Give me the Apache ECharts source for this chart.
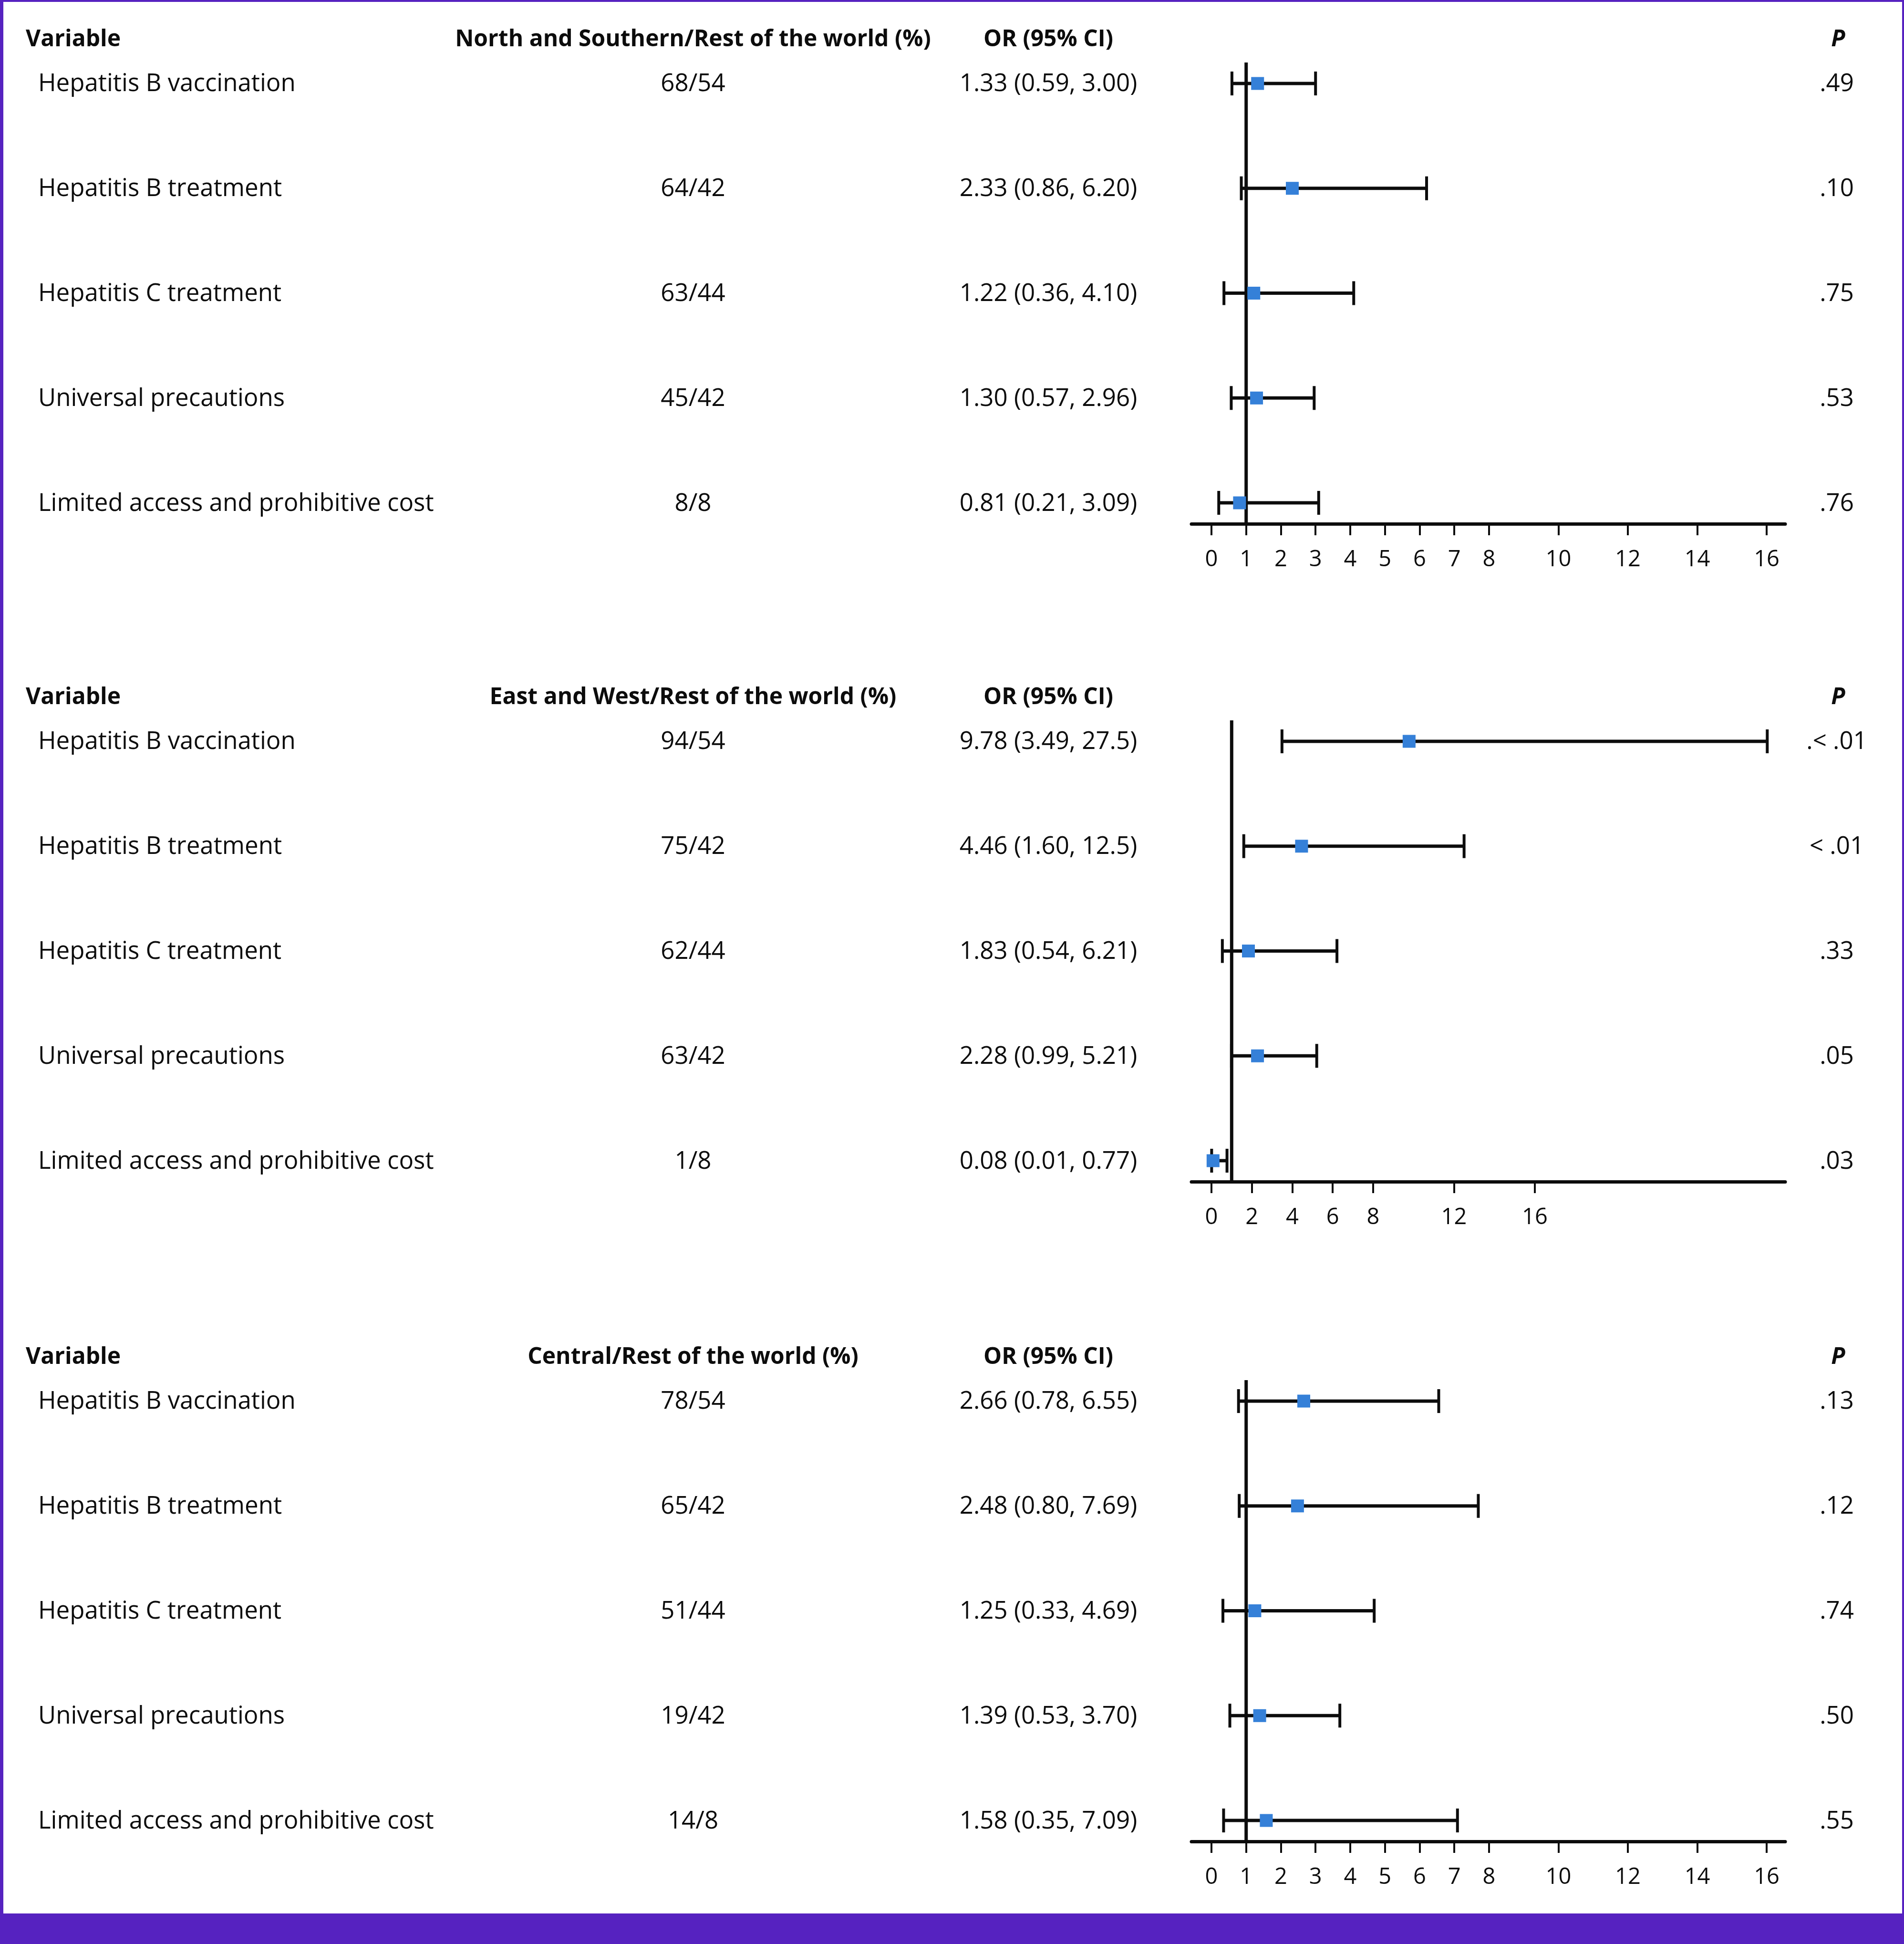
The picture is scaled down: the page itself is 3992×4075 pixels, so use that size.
<!DOCTYPE html>
<html>
<head>
<meta charset="utf-8"/>
<title>OR forest plot by region</title>
<script src="https://cdn.jsdelivr.net/npm/echarts@6.0.0/dist/echarts.min.js"></script>
<style>
html, body { margin: 0; padding: 0; background: #5622c0; }
#chart { width: 3992px; height: 4075px; }
</style>
</head>
<body>
<div id="chart"></div>
<script>
// rows of every panel
var variables = ['Hepatitis B vaccination', 'Hepatitis B treatment', 'Hepatitis C treatment',
                 'Universal precautions', 'Limited access and prohibitive cost'];
var groupNames = ['North and Southern/Rest of the world (%)', 'East and West/Rest of the world (%)',
                  'Central/Rest of the world (%)'];

// North and Southern
var pctNS = ['68/54', '64/42', '63/44', '45/42', '8/8'];
var orNS = [1.33, 2.33, 1.22, 1.30, 0.81];
var loNS = [0.59, 0.86, 0.36, 0.57, 0.21];
var hiNS = [3.00, 6.20, 4.10, 2.96, 3.09];
var pNS = ['.49', '.10', '.75', '.53', '.76'];

// East and West
var pctEW = ['94/54', '75/42', '62/44', '63/42', '1/8'];
var orEW = [9.78, 4.46, 1.83, 2.28, 0.08];
var loEW = [3.49, 1.60, 0.54, 0.99, 0.01];
var hiEW = [27.5, 12.5, 6.21, 5.21, 0.77];
var pEW = ['.< .01', '< .01', '.33', '.05', '.03'];

// Central
var pctC = ['78/54', '65/42', '51/44', '19/42', '14/8'];
var orC = [2.66, 2.48, 1.25, 1.39, 1.58];
var loC = [0.78, 0.80, 0.33, 0.53, 0.35];
var hiC = [6.55, 7.69, 4.69, 3.70, 7.09];
var pC = ['.13', '.12', '.74', '.50', '.55'];

// axis ticks
var ticksFine = [0, 1, 2, 3, 4, 5, 6, 7, 8, 10, 12, 14, 16];
var ticksEW = [0, 2, 4, 6, 8, 12, 16];
var nullOR = 1;

var panels = [
    {name: groupNames[0], pct: pctNS, or: orNS, lo: loNS, hi: hiNS, p: pNS, ticks: ticksFine, min: -0.577, max: 16.536, top: 131},
    {name: groupNames[1], pct: pctEW, or: orEW, lo: loEW, hi: hiEW, p: pEW, ticks: ticksEW, min: -0.99, max: 28.39, top: 1510},
    {name: groupNames[2], pct: pctC, or: orC, lo: loC, hi: hiC, p: pC, ticks: ticksFine, min: -0.577, max: 16.536, top: 2893}
];

var INK = '#0c0c0c';
var BLUE = '#3580d8';
var FONT = "'Open Sans', 'Noto Sans', sans-serif";

function fmt(v) {
    return v >= 10 ? v.toFixed(1) : v.toFixed(2);
}

function renderCI(params, api) {
    var row = api.value(0);
    var m = api.coord([api.value(1), row]);
    var a = api.coord([api.value(2), row]);
    var b = api.coord([api.value(3), row]);
    var cap = 25, sq = 27;
    return {
        type: 'group',
        children: [
            {type: 'line', shape: {x1: a[0], y1: a[1], x2: b[0], y2: b[1]}, style: {stroke: INK, lineWidth: 7}},
            {type: 'line', shape: {x1: a[0], y1: a[1] - cap, x2: a[0], y2: a[1] + cap}, style: {stroke: INK, lineWidth: 6}},
            {type: 'line', shape: {x1: b[0], y1: b[1] - cap, x2: b[0], y2: b[1] + cap}, style: {stroke: INK, lineWidth: 6}},
            {type: 'rect', shape: {x: m[0] - sq / 2, y: m[1] - sq / 2, width: sq, height: sq}, style: {fill: BLUE}}
        ]
    };
}

var myChart = echarts.init(document.getElementById('chart'), null, {renderer: 'canvas'});

var grids = [], xAxes = [], yAxes = [], series = [];
panels.forEach(function (pn, k) {
    grids.push({left: 2498, width: 1245, top: pn.top, height: 967});
    xAxes.push({
        type: 'value', gridIndex: k, min: pn.min, max: pn.max,
        axisLine: {show: true, onZero: false, lineStyle: {color: INK, width: 7}},
        axisTick: {show: true, customValues: pn.ticks, length: 24, lineStyle: {color: INK, width: 4}},
        axisLabel: {show: true, customValues: pn.ticks, margin: 52, color: INK, fontSize: 47, fontFamily: FONT},
        splitLine: {show: false}
    });
    yAxes.push({type: 'value', gridIndex: k, inverse: true, min: -0.2, max: 4.2, show: false});
    series.push({
        type: 'line', xAxisIndex: k, yAxisIndex: k, silent: true, symbol: 'none', z: 1,
        lineStyle: {color: INK, width: 7},
        data: [[nullOR, -0.2], [nullOR, 4.2]]
    });
    series.push({
        type: 'custom', xAxisIndex: k, yAxisIndex: k, z: 3,
        renderItem: renderCI,
        encode: {x: [1, 2, 3], y: 0},
        data: pn.or.map(function (v, i) { return [i, v, pn.lo[i], pn.hi[i]]; })
    });
});

var option = {
    animation: false,
    backgroundColor: '#5622c0',
    grid: grids,
    xAxis: xAxes,
    yAxis: yAxes,
    series: series
};
myChart.setOption(option);

// table text, placed on each panel's rows
function txt(s, x, y, font, align) {
    return {type: 'text', x: x, y: y, silent: true, z: 5,
        style: {text: s, font: font, fill: INK, align: align, verticalAlign: 'middle'}};
}
var regular = '51px ' + FONT;
var bold = 'bold 48px ' + FONT;
var boldItalic = 'italic bold 48px ' + FONT;

var texts = [{
    type: 'rect', z: -10, silent: true,
    shape: {x: 7, y: 4, width: 3981, height: 4007},
    style: {fill: '#ffffff'}
}];
panels.forEach(function (pn, k) {
    var headY = pn.top - 48;
    texts.push(txt('Variable', 54, headY, bold, 'left'));
    texts.push(txt(pn.name, 1453, headY, bold, 'center'));
    texts.push(txt('OR (95% CI)', 2198, headY, bold, 'center'));
    texts.push(txt('P', 3854, headY, boldItalic, 'center'));
    variables.forEach(function (v, i) {
        var y = myChart.convertToPixel({gridIndex: k}, [0, i])[1] + 2;
        texts.push(txt(v, 80, y, regular, 'left'));
        texts.push(txt(pn.pct[i], 1453, y, regular, 'center'));
        texts.push(txt(fmt(pn.or[i]) + ' (' + fmt(pn.lo[i]) + ', ' + fmt(pn.hi[i]) + ')', 2198, y, regular, 'center'));
        texts.push(txt(pn.p[i], 3851, y, regular, 'center'));
    });
});
myChart.setOption({graphic: texts}, {replaceMerge: ['graphic']});
</script>
</body>
</html>
